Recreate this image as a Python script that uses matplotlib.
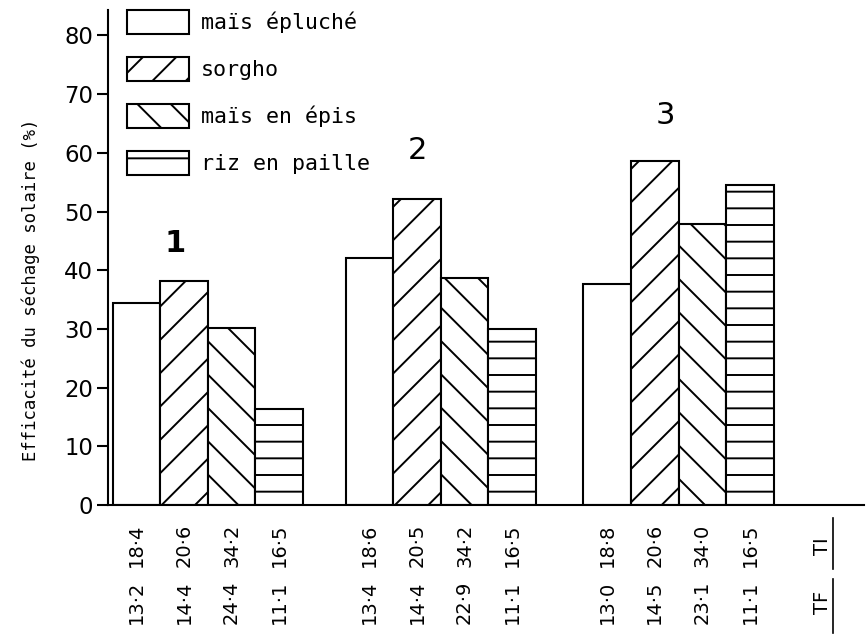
import matplotlib
matplotlib.use("Agg")
import matplotlib.pyplot as plt
from matplotlib.lines import Line2D
from matplotlib.transforms import blended_transform_factory

# Efficacité du séchage solaire (%) par produit, pour les trois essais
groupes = ["1", "2", "3"]
produits = ["maïs épluché", "sorgho", "maïs en épis", "riz en paille"]
mais_epluche = [34.4, 42.0, 37.6]
sorgho = [38.1, 52.1, 58.6]
mais_epis = [30.1, 38.6, 47.8]
riz_paille = [16.3, 30.0, 54.5]

# Teneurs en eau initiale (TI) et finale (TF) par essai et par produit
ti = [[18.4, 20.6, 34.2, 16.5],
      [18.6, 20.5, 34.2, 16.5],
      [18.8, 20.6, 34.0, 16.5]]
tf = [[13.2, 14.4, 24.4, 11.1],
      [13.4, 14.4, 22.9, 11.1],
      [13.0, 14.5, 23.1, 11.1]]

yticks = [0, 10, 20, 30, 40, 50, 60, 70, 80]

series = [mais_epluche, sorgho, mais_epis, riz_paille]
hatches = ["", "//", "\\\\", "--"]

DPI = 200
plt.rcParams["hatch.linewidth"] = 0.7
plt.rcParams["hatch.color"] = "black"

fig = plt.figure(figsize=(866 / DPI, 636 / DPI), dpi=DPI)
ax = fig.add_axes([0.1247, 0.206, 0.873, 0.778])

mono = ["DejaVu Sans Mono"]
num = ["Liberation Sans Narrow", "DejaVu Sans"]

starts = [0.1, 5.0, 10.0]
width = 1.0
handles = []
for j, (vals, h, name) in enumerate(zip(series, hatches, produits)):
    xs = [s + j * width + width / 2 for s in starts]
    bars = ax.bar(xs, vals, width=width, facecolor="white", edgecolor="black",
                  linewidth=0.75, hatch=h, label=name, zorder=2)
    handles.append(bars)

ax.set_xlim(0, 15.9)
ax.set_ylim(0, 84.3)
ax.set_xticks([])
ax.set_yticks(yticks)
ax.set_yticklabels([str(t) for t in yticks], family=num, fontsize=8.2)
ax.tick_params(axis="y", direction="out", length=3.8, width=0.75, pad=1.5)
for side in ("top", "right"):
    ax.spines[side].set_visible(False)
for side in ("left", "bottom"):
    ax.spines[side].set_linewidth(0.75)

ax.set_ylabel("Efficacité du séchage solaire (%)", family=mono, fontsize=6.2)
ax.yaxis.set_label_coords(-0.09, 0.434)

# numéros d'essai
for g, (gx, gy) in zip(groupes, [(1.41, 44.6), (6.5, 60.4), (11.73, 66.4)]):
    ax.text(gx, gy, g, ha="center", va="center", fontsize=11,
            family=["DejaVu Sans"], fontweight="bold" if g == "1" else "normal")

leg = ax.legend(handles=handles, loc="upper left", bbox_to_anchor=(0.025, 1.0),
                frameon=False, prop={"family": mono, "size": 7.8},
                handlelength=2.85, handleheight=1.3, labelspacing=1.08,
                handletextpad=0.55, borderaxespad=0.0, borderpad=0.0)

# valeurs TI et TF sous chaque barre
trans = blended_transform_factory(ax.transData, fig.transFigure)
for gi, s in enumerate(starts):
    for j in range(4):
        x = s + j * width + width / 2
        ax.text(x, 0.142, f"{ti[gi][j]:.1f}".replace(".", "·"), transform=trans,
                rotation=90, ha="center", va="center", fontsize=7, family=num,
                clip_on=False)
        ax.text(x, 0.053, f"{tf[gi][j]:.1f}".replace(".", "·"), transform=trans,
                rotation=90, ha="center", va="center", fontsize=7, family=num,
                clip_on=False)

ax.text(15.03, 0.142, "TI", transform=trans, rotation=90, ha="center",
        va="center", fontsize=7, family=num, clip_on=False)
ax.text(15.03, 0.053, "TF", transform=trans, rotation=90, ha="center",
        va="center", fontsize=7, family=num, clip_on=False)
for y0, y1 in [(0.105, 0.185), (0.005, 0.09)]:
    ax.add_line(Line2D([15.24, 15.24], [y0, y1], transform=trans, color="black",
                       linewidth=0.6, clip_on=False))

fig.savefig("out.png", dpi=DPI, facecolor="white")
